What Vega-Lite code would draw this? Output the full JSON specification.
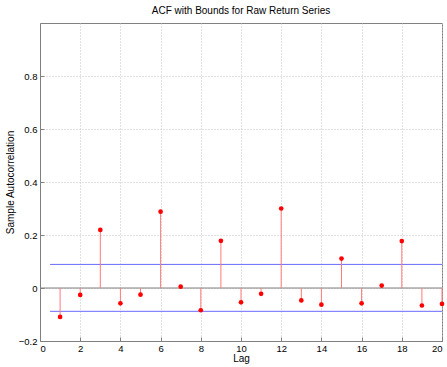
{
  "$schema": "https://vega.github.io/schema/vega-lite/v6.json",
  "width": 402,
  "height": 318,
  "autosize": "none",
  "padding": {"left": 40, "top": 23, "right": 5, "bottom": 26},
  "background": "white",
  "title": {"text": "ACF with Bounds for Raw Return Series", "fontSize": 10, "font": "Liberation Sans", "fontWeight": "normal", "offset": 7, "color": "#000"},
  "config": {
    "view": {"stroke": "#808080", "strokeWidth": 1},
    "axis": {
      "labelFont": "Liberation Sans", "labelFontSize": 9.5, "labelColor": "#000",
      "titleFont": "Liberation Sans", "titleFontSize": 10, "titleFontWeight": "normal", "titleColor": "#000",
      "domainColor": "#808080", "tickColor": "#808080", "tickSize": -4,
      "gridColor": "#c4c4c4", "gridDash": [1, 2], "gridWidth": 1
    }
  },
  "datasets": {
    "acf": [
      {"lag": 1, "acf": -0.109},
      {"lag": 2, "acf": -0.026},
      {"lag": 3, "acf": 0.219},
      {"lag": 4, "acf": -0.058},
      {"lag": 5, "acf": -0.025},
      {"lag": 6, "acf": 0.288},
      {"lag": 7, "acf": 0.005},
      {"lag": 8, "acf": -0.084},
      {"lag": 9, "acf": 0.178},
      {"lag": 10, "acf": -0.054},
      {"lag": 11, "acf": -0.022},
      {"lag": 12, "acf": 0.300},
      {"lag": 13, "acf": -0.047},
      {"lag": 14, "acf": -0.063},
      {"lag": 15, "acf": 0.111},
      {"lag": 16, "acf": -0.058},
      {"lag": 17, "acf": 0.009},
      {"lag": 18, "acf": 0.177},
      {"lag": 19, "acf": -0.066},
      {"lag": 20, "acf": -0.060}
    ],
    "bounds": [
      {"x": 0.5, "x2": 20, "y": 0.089},
      {"x": 0.5, "x2": 20, "y": -0.088}
    ],
    "zero": [{"x": 0, "x2": 20, "y": 0}]
  },
  "layer": [
    {
      "data": {"name": "zero"},
      "mark": {"type": "rule", "color": "#808080", "strokeWidth": 1},
      "encoding": {
        "x": {"field": "x", "type": "quantitative", "scale": {"domain": [0, 20], "nice": false},
          "axis": {"title": "Lag", "values": [0,2,4,6,8,10,12,14,16,18,20], "labelPadding": 6, "titlePadding": 1, "grid": true, "format": "d"}},
        "x2": {"field": "x2"},
        "y": {"field": "y", "type": "quantitative", "scale": {"domain": [-0.2, 1], "nice": false},
          "axis": {"title": "Sample Autocorrelation", "values": [-0.2, 0, 0.2, 0.4, 0.6, 0.8], "labelPadding": 7, "titlePadding": 3, "grid": true, "format": "~g"}}
      }
    },
    {
      "data": {"name": "bounds"},
      "mark": {"type": "rule", "color": "#6a6aff", "strokeWidth": 1},
      "encoding": {
        "x": {"field": "x", "type": "quantitative"},
        "x2": {"field": "x2"},
        "y": {"field": "y", "type": "quantitative"}
      }
    },
    {
      "data": {"name": "acf"},
      "mark": {"type": "rule", "color": "#ff7a7a", "strokeWidth": 1},
      "encoding": {
        "x": {"field": "lag", "type": "quantitative"},
        "y": {"field": "acf", "type": "quantitative"},
        "y2": {"datum": 0}
      }
    },
    {
      "data": {"name": "acf"},
      "mark": {"type": "circle", "color": "#ff0000", "opacity": 1, "size": 22},
      "encoding": {
        "x": {"field": "lag", "type": "quantitative"},
        "y": {"field": "acf", "type": "quantitative"}
      }
    }
  ]
}
